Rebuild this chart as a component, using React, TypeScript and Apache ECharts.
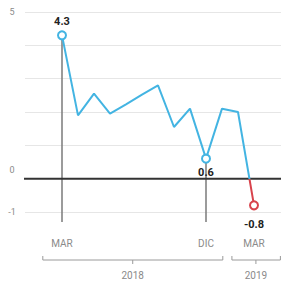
import React, { useEffect, useRef } from "react";
import * as echarts from "echarts";

// Month index 0 = MAR 2018 ... 12 = MAR 2019
const monthNames = ["MAR", "ABR", "MAY", "JUN", "JUL", "AGO", "SEP", "OCT", "NOV", "DIC", "ENE", "FEB", "MAR"];
const values = [4.3, 1.9, 2.55, 1.95, 2.23, 2.52, 2.8, 1.55, 2.1, 0.6, 2.1, 2.0, -0.8];
const labeledMonths = [0, 9, 12];
const droplineMonths = [0, 9];
const yTickLabels = [5, 0, -1];
const years = ["2018", "2019"];
const yearStart = [-1.2, 10.62];
const yearEnd = [10.05, 13.65];
const yearMid = [4.42, 12.12];

const BLUE = "#43b4e2";
const RED = "#d8434c";

export default function App() {
  const ref = useRef<HTMLDivElement>(null);
  useEffect(() => {
    const chart = echarts.init(ref.current!, undefined, { renderer: "svg" });
    const font = "Roboto, 'DejaVu Sans', sans-serif";
    const mainData = values.map((v, i) => {
      const lab = labeledMonths.includes(i);
      return {
        value: [i, v],
        symbol: lab ? "emptyCircle" : "none",
        symbolSize: 8,
        itemStyle: { color: v < 0 ? RED : BLUE, borderWidth: 1.5 },
        label: {
          show: lab,
          position: i === 0 ? "top" : "bottom",
          distance: i === 12 ? 9 : 3,
          formatter: String(v),
          fontWeight: "bold",
          fontSize: 11,
          color: "#222",
          fontFamily: font,
        },
      };
    });
    const dropSeries = droplineMonths.map((m) => ({
      type: "line",
      data: [
        [m, values[m]],
        [m, -1.3],
      ],
      symbol: "none",
      clip: false,
      silent: true,
      z: 1,
      lineStyle: { color: "#7a7a7a", width: 1.5 },
    }));
    chart.setOption({
      animation: false,
      textStyle: { fontFamily: font },
      grid: { left: 25, right: 0, top: 12, bottom: 73 },
      xAxis: {
        type: "value",
        min: -2.3125,
        max: 13.6875,
        axisLine: { show: false },
        axisTick: { show: false },
        splitLine: { show: false },
        axisLabel: { show: false },
      },
      yAxis: {
        type: "value",
        min: -1,
        max: 5,
        interval: 1,
        axisLine: { show: false },
        axisTick: { show: false },
        splitLine: { lineStyle: { color: "#e6e6e6", width: 1 } },
        axisLabel: {
          margin: 13,
          align: "center",
          color: "#8a8a8a",
          fontSize: 9,
          fontFamily: font,
          formatter: (v: number) =>
            yTickLabels.includes(v) ? (v === 0 ? "{z|0}" : "{n|" + v + "}") : "",
          rich: {
            z: { padding: [0, 0, 18, 0], fontSize: 9, color: "#8a8a8a" },
            n: { fontSize: 9, color: "#8a8a8a" },
          },
        },
      },
      series: [
        {
          type: "line",
          data: mainData,
          z: 3,
          lineStyle: { width: 2, color: BLUE },
        },
        {
          type: "line",
          data: [
            [-3.25, 0],
            [13.7, 0],
          ],
          symbol: "none",
          clip: false,
          silent: true,
          z: 2,
          lineStyle: { color: "#333", width: 2 },
        },
        ...dropSeries,
      ],
    });
    // Colour the line red below zero, using the library's scale for the zero position
    const zeroY = chart.convertToPixel({ gridIndex: 0 }, [0, 0])[1];
    const topY = chart.convertToPixel({ gridIndex: 0 }, [0, 5])[1];
    const botY = chart.convertToPixel({ gridIndex: 0 }, [0, -1])[1];
    const off = (zeroY - topY) / (botY - topY);
    const font2 = font;
    chart.setOption({
      series: [
        {
          lineStyle: {
            width: 2,
            color: new echarts.graphic.LinearGradient(0, topY, 0, botY, [
              { offset: 0, color: BLUE },
              { offset: off, color: BLUE },
              { offset: off, color: RED },
              { offset: 1, color: RED },
            ], true),
          },
        },
        {},
        ...dropSeries.map(() => ({})),
        {
          type: "custom",
          coordinateSystem: "cartesian2d",
          clip: false,
          silent: true,
          data: labeledMonths.map((m) => [m, -1]),
          renderItem: (params: any, api: any) => {
            const p = api.coord([api.value(0), -1]);
            return {
              type: "text",
              x: p[0],
              y: p[1] + 31,
              style: {
                text: monthNames[labeledMonths[params.dataIndex]],
                align: "center",
                verticalAlign: "middle",
                fill: "#8a8a8a",
                fontSize: 10,
                fontFamily: font2,
              },
            };
          },
        },
        {
          type: "custom",
          coordinateSystem: "cartesian2d",
          clip: false,
          silent: true,
          data: years.map((y, i) => [yearStart[i], -1, yearEnd[i], yearMid[i]]),
          renderItem: (params: any, api: any) => {
            const s = api.value(0);
            const e = api.value(2);
            const m = api.value(3);
            const base = api.coord([0, -1])[1];
            const yb = base + 48;
            const x1 = api.coord([s, -1])[0];
            const x2 = api.coord([e, -1])[0];
            const xm = api.coord([m, -1])[0];
            const st = { stroke: "#9a9a9a", lineWidth: 1, fill: null };
            return {
              type: "group",
              children: [
                { type: "polyline", shape: { points: [[x1, yb - 4], [x1, yb], [x2, yb], [x2, yb - 4]] }, style: st },
                { type: "line", shape: { x1: xm, y1: yb, x2: xm, y2: yb + 4 }, style: st },
                {
                  type: "text",
                  x: xm,
                  y: yb + 15,
                  style: {
                    text: years[params.dataIndex],
                    align: "center",
                    verticalAlign: "middle",
                    fill: "#8a8a8a",
                    fontSize: 10,
                    fontFamily: font2,
                  },
                },
              ],
            };
          },
        },
      ],
    });
    return () => chart.dispose();
  }, []);
  return (
    <div
      ref={ref}
      style={{ position: "fixed", left: 0, top: 0, width: 281, height: 285, background: "#fff" }}
    />
  );
}
